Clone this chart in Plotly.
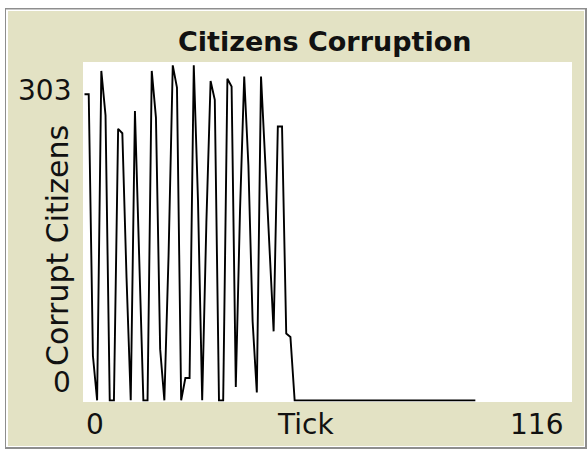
import plotly.graph_objects as go

# Data (NetLogo plot "Citizens Corruption")
ticks = list(range(0, 94))
corrupt_head = [275, 275, 40, 0, 296, 256, 0, 0, 244, 240,
                110, 0, 260, 125, 0, 0, 296, 254, 46, 0,
                130, 301, 281, 0, 20, 20, 301, 180, 0, 160,
                287, 270, 0, 0, 289, 282, 12, 170, 291, 211,
                71, 7, 291, 215, 138, 62, 246, 246, 60, 57]
corrupt_citizens = corrupt_head + [0] * (len(ticks) - len(corrupt_head))

x_min_label, x_max_label = "0", "116"
y_min_label, y_max_label = "0", "303"
x_range = [-0.36, 116]
y_range = [-1.5, 304]

W, H = 587, 449
L, R, T, B = 83, 572, 62, 402
PW, PH = R - L, B - T

def px(x):
    return (x - L) / PW

def py(y):
    return (B - y) / PH

FONT = "DejaVu Sans"
BEIGE = "#E3E2C4"

fig = go.Figure()
fig.add_trace(go.Scatter(x=ticks, y=corrupt_citizens, mode="lines",
                         line=dict(color="black", width=1.9),
                         hoverinfo="skip", showlegend=False))

shapes = [
    dict(type="rect", xref="paper", yref="paper",
         x0=px(5), x1=px(587), y0=py(8), y1=py(449),
         fillcolor="#8E8E8E", line=dict(width=0), layer="below"),
    dict(type="rect", xref="paper", yref="paper",
         x0=px(6), x1=px(585), y0=py(9.5), y1=py(447),
         fillcolor="#FFFFFF", line=dict(width=0), layer="below"),
    dict(type="rect", xref="paper", yref="paper",
         x0=px(8), x1=px(584), y0=py(11), y1=py(446),
         fillcolor=BEIGE, line=dict(width=0), layer="below"),
    dict(type="rect", xref="paper", yref="paper",
         x0=0, x1=1, y0=0, y1=1,
         fillcolor="#FFFFFF", line=dict(width=0), layer="below"),
]

tf = dict(family=FONT, size=28, color="#111111")
annotations = [
    dict(text="<b>Citizens Corruption</b>", x=px(324), y=py(41),
         xanchor="center", yanchor="middle", font=dict(family=FONT, size=27, color="#111111")),
    dict(text=y_max_label, x=px(73), y=py(90), xanchor="right", yanchor="middle", font=tf),
    dict(text=y_min_label, x=px(73), y=py(382), xanchor="right", yanchor="middle", font=tf),
    dict(text=x_min_label, x=px(84), y=py(424), xanchor="left", yanchor="middle", font=tf),
    dict(text=x_max_label, x=px(565), y=py(424), xanchor="right", yanchor="middle", font=tf),
    dict(text="Tick", x=px(305), y=py(424), xanchor="center", yanchor="middle", font=tf),
    dict(text="Corrupt Citizens", x=px(57), y=py(246), textangle=-90,
         xanchor="center", yanchor="middle", font=dict(family=FONT, size=30, color="#111111")),
]
for a in annotations:
    a.update(xref="paper", yref="paper", showarrow=False)

fig.update_layout(
    width=W, height=H,
    margin=dict(l=L, r=W - R, t=T, b=H - B, pad=0),
    paper_bgcolor="white", plot_bgcolor="white",
    shapes=shapes, annotations=annotations,
    xaxis=dict(range=x_range, visible=False, fixedrange=True),
    yaxis=dict(range=y_range, visible=False, fixedrange=True),
)
fig.write_html("out.html", config={"displayModeBar": False},
               post_script="document.body.style.margin='0';document.body.style.overflow='hidden';")
